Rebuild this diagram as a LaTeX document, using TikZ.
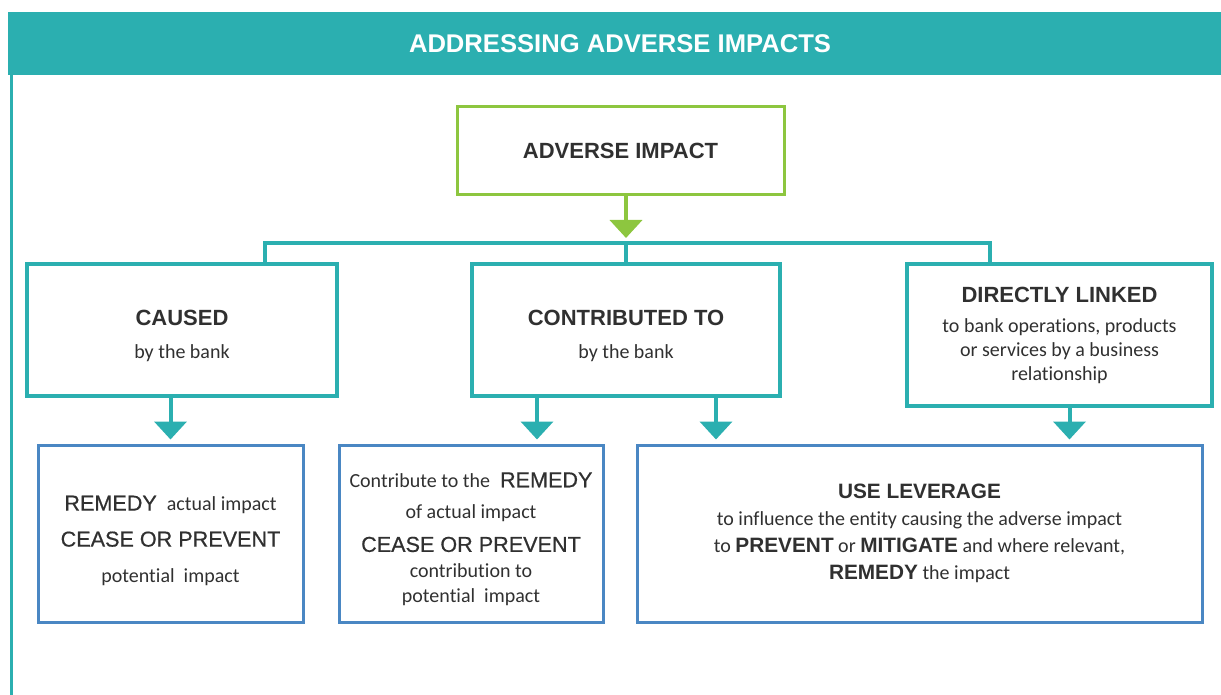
\documentclass[tikz,border=0pt]{standalone}
\usepackage{fontspec}
\setmainfont{Carlito}[Ligatures=NoCommon]
\newfontfamily\headfont{Liberation Sans}
\newfontfamily\capfont{Liberation Sans}[FakeBold=0.6]
\usetikzlibrary{arrows.meta,calc,positioning}
\definecolor{bankteal}{HTML}{2BAFB0}
\definecolor{impgreen}{HTML}{8DC63F}
\definecolor{actblue}{HTML}{4A87C3}
\definecolor{txtgray}{HTML}{303030}
\newcommand{\capbold}[1]{{\headfont\bfseries\fontsize{11}{13}\selectfont #1}}
\newcommand{\capword}[1]{{\capfont\fontsize{10.8}{13}\selectfont #1}}
\newcommand{\levword}[1]{{\headfont\bfseries\fontsize{10.4}{13}\selectfont #1}}
\newcommand{\padtop}[1]{\rule{0pt}{#1}}

\begin{document}
\begin{tikzpicture}[x=0.5pt,y=-0.5pt,>={Triangle[width=16pt,length=9pt]},
  hdr/.style={fill=bankteal,minimum width=612pt,minimum height=31.5pt,inner sep=0pt,
    text=white,font=\headfont\bfseries\fontsize{12.8}{15}\selectfont},
  imp/.style={draw=impgreen,line width=1.5pt,minimum width=163.5pt,minimum height=44pt,
    text=txtgray,font=\headfont\bfseries\fontsize{11}{13}\selectfont},
  case/.style={draw=bankteal,line width=2pt,align=center,minimum height=66pt,
    text=txtgray,font=\fontsize{10}{12}\selectfont},
  act/.style={draw=actblue,line width=1.5pt,align=center,minimum height=88.5pt,
    text=txtgray,font=\fontsize{10}{12}\selectfont},
  tl/.style={draw=bankteal,line width=2pt},
  tarrow/.style={->,draw=bankteal,line width=2pt,shorten >=2pt},
  garrow/.style={->,draw=impgreen,line width=2pt}]
  \useasboundingbox (0,0) rectangle (1221,695);

  \node[hdr]                            (Hdr)  at (620,43.5)   {ADDRESSING ADVERSE IMPACTS};
  \node[imp]                            (Imp)  at (620.5,151)  {ADVERSE IMPACT};
  \node[case,minimum width=155pt]       (Cau)  at (182,330)    {\padtop{14pt}\capbold{CAUSED}\\[4.5pt]by the bank};
  \node[case,minimum width=154pt]       (Con)  at (626,330)    {\padtop{14pt}\capbold{CONTRIBUTED TO}\\[4.5pt]by the bank};
  \node[case,minimum width=152.5pt,minimum height=71pt] (Lnk) at (1059.5,335)
    {\capbold{DIRECTLY LINKED}\\[3pt]to bank operations, products\\or services by a business\\relationship};
  \node[act,minimum width=132.5pt]      (Act1) at (170.5,533.5)
    {\padtop{14.7pt}\capword{REMEDY}\enspace actual impact\\[6pt]\capword{CEASE OR PREVENT}\\[6pt]potential~ impact};
  \node[act,minimum width=132pt]        (Act2) at (471,533.5)
    {\padtop{13pt}Contribute to the\enspace\capword{REMEDY}\\[3.8pt]of actual impact\\[4.5pt]\capword{CEASE OR PREVENT}\\[0.8pt]contribution to\\[0.5pt]potential~ impact};
  \node[act,minimum width=282.5pt,font=\fontsize{10}{13.5}\selectfont] (Lev) at (919.5,533.5)
    {\levword{USE LEVERAGE}\\to influence the entity causing the adverse impact\\
     to \levword{PREVENT} or \levword{MITIGATE} and where relevant,\\\levword{REMEDY} the impact};

  % frame line on the left
  \draw[tl,line width=1.5pt] (11,75) -- (11,695);

  % branching under the adverse impact
  \coordinate (busL) at (265,243);
  \coordinate (busR) at (990,243);
  \path (Imp.south -| Con.north) edge[garrow] ([yshift=2.5pt]Con.north |- busL);
  \draw[tl] (Cau.north -| busL) -- (busL) -- (busR) -- (Lnk.north -| busR);
  \draw[tl] (Con.north) -- (Con.north |- busL);

  % down to the actions
  \path (Cau.south -| Act1.north)   edge[tarrow] (Act1.north)
        ([xshift=-44.5pt]Con.south) edge[tarrow] ([xshift=-44.5pt]Con.south |- Act2.north)
        ([xshift=45pt]Con.south)    edge[tarrow] ([xshift=45pt]Con.south |- Lev.north)
        ([xshift=5pt]Lnk.south)     edge[tarrow] ([xshift=5pt]Lnk.south |- Lev.north);
\end{tikzpicture}
\end{document}
